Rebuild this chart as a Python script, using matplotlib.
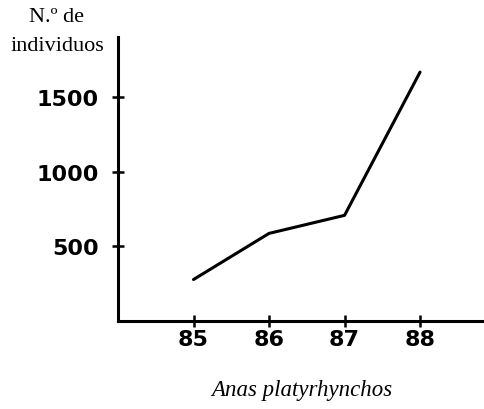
import matplotlib
matplotlib.use("Agg")
from matplotlib import pyplot as plt

# data
years = [85, 86, 87, 88]
counts = [278, 587, 708, 1668]
y_ticks = [500, 1000, 1500]
x_labels = ["85", "86", "87", "88"]
species = "Anas platyrhynchos"

W, H = 485, 410
fig = plt.figure(figsize=(W / 100, H / 100), dpi=100)
ax = fig.add_axes([118 / W, (H - 322) / H, (W - 118) / W, (322 - 38) / H])

ax.plot(years, counts, color="black", lw=2.2, solid_capstyle="round")

ax.set_xlim(84.0, 88.86)
ax.set_ylim(0, 1903)
ax.set_xticks(years)
ax.set_xticklabels(x_labels)
ax.set_yticks(y_ticks)

for s in ("top", "right"):
    ax.spines[s].set_visible(False)
for s in ("left", "bottom"):
    ax.spines[s].set_linewidth(2.2)

ax.tick_params(direction="inout", length=8, width=1.8, colors="black")
ax.tick_params(axis="y", pad=10)
ax.tick_params(axis="x", pad=2)
for lab in ax.get_xticklabels() + ax.get_yticklabels():
    lab.set_family("DejaVu Sans")
    lab.set_fontweight("bold")
    lab.set_fontsize(16)

fig.text(57 / W, 1 - 32 / H, "N.º de\nindividuos", ha="center", va="center",
         family="Liberation Serif", fontsize=16, linespacing=1.7)
fig.text(302 / W, 1 - 391 / H, species, ha="center", va="center",
         family="Liberation Serif", style="italic", fontsize=16.5)

fig.savefig("out.png", dpi=100)
